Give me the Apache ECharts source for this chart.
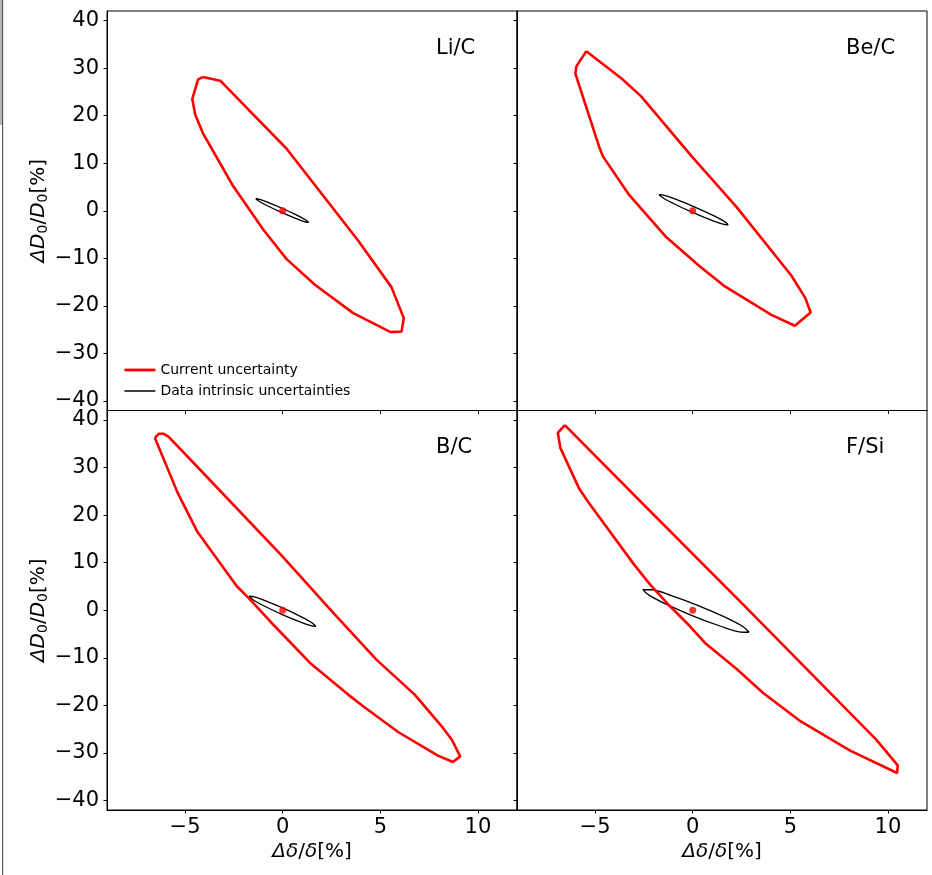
<!DOCTYPE html>
<html>
<head>
<meta charset="utf-8">
<script src="https://cdn.jsdelivr.net/npm/echarts@6/dist/echarts.min.js"></script>
<style>
html,body{margin:0;padding:0;background:#fff;}
#chart{width:932px;height:875px;}
</style>
</head>
<body>
<div id="chart"></div>
<script>
// ---- data ----
const xTicks = [-5, 0, 5, 10];
const yTicks = [-40, -30, -20, -10, 0, 10, 20, 30, 40];
const panelNames = ['Li/C', 'Be/C', 'B/C', 'F/Si'];
const seriesNames = ['Current uncertainty', 'Data intrinsic uncertainties'];
const bestFit = [0, 0];

const liC_current = [[-4.10,28.12],[-3.20,27.35],[0.20,13.04],[3.86,-6.24],[5.57,-16.06],[6.20,-22.58],[6.09,-25.39],[5.53,-25.53],[3.61,-21.53],[1.65,-15.57],[0.20,-10.17],[-0.99,-4.00],[-2.55,5.26],[-4.09,16.34],[-4.48,20.20],[-4.63,23.49],[-4.34,27.56],[-4.10,28.12]];
const liC_intrinsic = [[1.34,-2.46],[1.137,-2.318],[0.624,-1.548],[-0.062,-0.354],[-0.736,0.942],[-1.219,1.994],[-1.38,2.52],[-1.177,2.378],[-0.664,1.608],[0.022,0.414],[0.696,-0.882],[1.179,-1.934],[1.34,-2.46]];

const beC_current = [[-5.45,33.52],[-3.63,27.77],[-2.64,24.05],[-0.05,11.43],[2.25,0.77],[5.06,-13.67],[5.77,-18.37],[6.04,-21.39],[5.23,-24.19],[4.03,-21.88],[1.65,-15.92],[0.37,-11.71],[-1.36,-5.54],[-3.29,3.51],[-4.60,11.43],[-4.77,13.18],[-6.01,28.82],[-5.96,30.36],[-5.45,33.52]];
const beC_intrinsic = [[1.82,-2.94],[1.554,-2.797],[0.884,-1.848],[-0.009,-0.345],[-0.886,1.308],[-1.512,2.667],[-1.72,3.37],[-1.454,3.227],[-0.784,2.278],[0.109,0.775],[0.986,-0.878],[1.612,-2.237],[1.82,-2.94]];

const bC_current = [[-6.55,36.26],[-6.35,37.10],[-6.09,37.10],[-5.84,36.47],[-4.73,31.70],[-0.05,11.50],[2.59,-0.56],[4.80,-10.38],[6.76,-17.74],[8.21,-24.75],[8.68,-27.35],[9.09,-30.72],[8.72,-31.91],[7.95,-30.57],[5.91,-25.60],[4.12,-20.20],[3.35,-17.74],[1.40,-11.08],[-0.65,-2.31],[-1.75,2.59],[-2.35,5.05],[-4.39,16.62],[-5.38,24.68],[-6.55,36.26]];
const bC_intrinsic = [[1.70,-3.37],[1.439,-3.245],[0.789,-2.308],[-0.075,-0.81],[-0.921,0.848],[-1.523,2.219],[-1.72,2.94],[-1.459,2.815],[-0.809,1.878],[0.055,0.38],[0.901,-1.278],[1.503,-2.649],[1.70,-3.37]];

const fSi_current = [[-6.55,38.92],[-2.52,22.23],[2.59,1.19],[9.40,-27.21],[10.50,-32.61],[10.47,-34.22],[8.04,-29.45],[6.25,-25.11],[5.45,-23.14],[3.61,-17.39],[2.25,-12.34],[0.63,-6.87],[-0.14,-3.37],[-1.16,0.84],[-2.18,5.40],[-3.03,9.75],[-5.38,22.93],[-5.81,25.53],[-6.78,34.15],[-6.91,37.31],[-6.55,38.92]];
const fSi_intrinsic = [[2.89,-4.63],[2.471,-4.594],[1.435,-3.366],[0.06,-1.273],[-1.285,1.124],[-2.241,3.182],[-2.55,4.35],[-2.131,4.314],[-1.095,3.086],[0.28,0.993],[1.625,-1.404],[2.581,-3.462],[2.89,-4.63]];

const currentSets = [liC_current, beC_current, bC_current, fSi_current];
const intrinsicSets = [liC_intrinsic, beC_intrinsic, bC_intrinsic, fSi_intrinsic];

// ---- layout ----
const FONT = 'DejaVu Sans';
const panels = [
  {left: 107, top: 11},
  {left: 517, top: 11},
  {left: 107, top: 410.5},
  {left: 517, top: 410.5}
];
const PW = 410, PH = 399.5;
const minus = v => String(v).replace('-', '\u2212');

const grids = [], xAxes = [], yAxes = [], series = [], titles = [];
panels.forEach((p, i) => {
  const isLeft = (i % 2 === 0), isBottom = (i >= 2);
  grids.push({left: p.left, top: p.top, width: PW, height: PH, show: true,
    borderColor: '#000', borderWidth: 1, backgroundColor: 'transparent'});
  xAxes.push({
    type: 'value', gridIndex: i, min: -9, max: 12,
    axisLine: {show: true, onZero: false, lineStyle: {color: '#000', width: 1}},
    axisTick: {show: true, inside: false, length: 3.5, lineStyle: {color: '#000'}, customValues: xTicks},
    axisLabel: {show: isBottom, customValues: xTicks, formatter: minus, color: '#000',
      fontFamily: FONT, fontSize: 21, margin: 7},
    splitLine: {show: false},
    name: isBottom ? '{d|\u0394\u03b4}{n|/}{d|\u03b4}{n|[%]}' : '',
    nameLocation: 'middle', nameGap: 32,
    nameTextStyle: {rich: {
      d: {fontFamily: FONT, fontSize: 20, fontStyle: 'italic', color: '#000'},
      n: {fontFamily: FONT, fontSize: 20, color: '#000'}
    }}
  });
  yAxes.push({
    type: 'value', gridIndex: i, min: -42, max: 42,
    axisLine: {show: true, onZero: false, lineStyle: {color: '#000', width: 1}},
    axisTick: {show: true, inside: false, length: 3.5, lineStyle: {color: '#000'}, customValues: yTicks},
    axisLabel: {show: isLeft, customValues: yTicks, formatter: minus, color: '#000',
      fontFamily: FONT, fontSize: 21, margin: 8},
    splitLine: {show: false},
    name: isLeft ? '{d|\u0394D}{s|0}{n|/}{d|D}{s|0}{n|[%]}' : '',
    nameLocation: 'middle', nameGap: 55, nameRotate: 90,
    nameTextStyle: {rich: {
      d: {fontFamily: FONT, fontSize: 20, fontStyle: 'italic', color: '#000', lineHeight: 24},
      n: {fontFamily: FONT, fontSize: 20, color: '#000', lineHeight: 24},
      s: {fontFamily: FONT, fontSize: 14, color: '#000', lineHeight: 14, verticalAlign: 'bottom'}
    }}
  });
  titles.push({text: panelNames[i], left: p.left + 324, top: p.top + 22,
    textStyle: {fontFamily: FONT, fontSize: 21, fontWeight: 'normal', color: '#000'}});
  series.push({
    name: seriesNames[1], type: 'line', xAxisIndex: i, yAxisIndex: i,
    data: intrinsicSets[i], symbol: 'none', smooth: 0.35, z: 3,
    lineStyle: {color: '#000', width: 1.3}, itemStyle: {color: '#000'}
  });
  series.push({
    name: seriesNames[0], type: 'line', xAxisIndex: i, yAxisIndex: i,
    data: currentSets[i], symbol: 'none', smooth: false, z: 4,
    lineStyle: {color: '#ff0000', width: 2.6}, itemStyle: {color: '#ff0000'}
  });
  series.push({
    type: 'scatter', xAxisIndex: i, yAxisIndex: i, data: [bestFit],
    symbolSize: 7, z: 5, itemStyle: {color: '#ff0000'}
  });
});

const option = {
  animation: false,
  backgroundColor: '#fff',
  title: titles,
  grid: grids, xAxis: xAxes, yAxis: yAxes, series: series,
  legend: {
    data: [
      {name: seriesNames[0], lineStyle: {width: 2.8, color: '#ff0000'}},
      {name: seriesNames[1], lineStyle: {width: 1.5, color: '#000'}}
    ],
    orient: 'vertical', left: 118, top: 358, itemWidth: 31, itemHeight: 14, itemGap: 7,
    itemStyle: {opacity: 0},
    textStyle: {fontFamily: FONT, fontSize: 14, color: '#000'}
  },
  graphic: [
    {type: 'rect', shape: {x: 0, y: 0, width: 3, height: 125}, style: {fill: '#b4b4b4'}, silent: true},
    {type: 'rect', shape: {x: 2, y: 0, width: 1.2, height: 875}, style: {fill: '#5a5a5a'}, silent: true}
  ]
};
const chart = echarts.init(document.getElementById('chart'), null, {renderer: 'canvas'});
chart.setOption(option);
</script>
</body>
</html>
